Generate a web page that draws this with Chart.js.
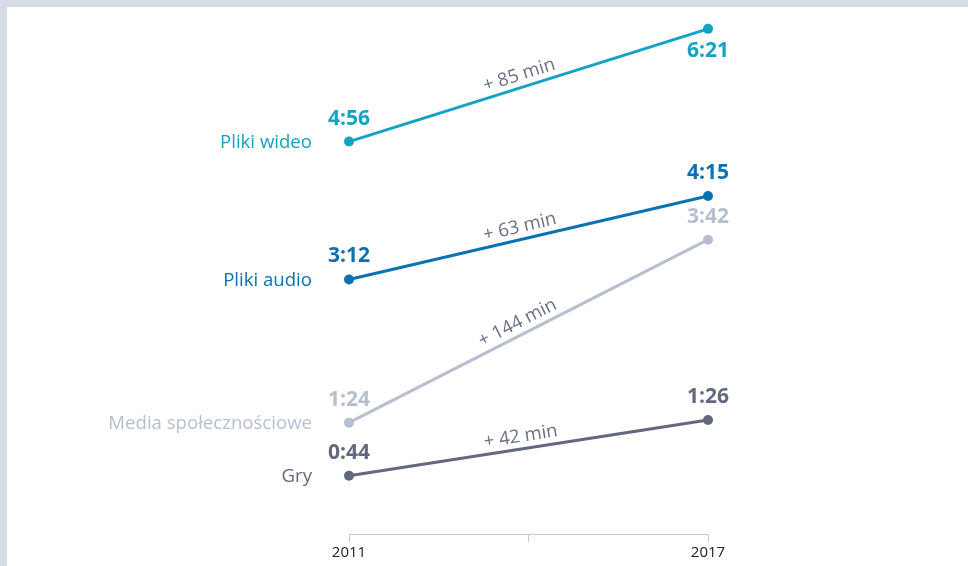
<!DOCTYPE html>
<html>
<head>
<meta charset="utf-8">
<script src="https://cdn.jsdelivr.net/npm/chart.js@4.4.1/dist/chart.umd.min.js"></script>
<style>
  html, body { margin: 0; padding: 0; background: #fff; }
  #wrap {
    position: relative; width: 968px; height: 566px; box-sizing: border-box;
    border-top: 7px solid #d5dce5; border-left: 7px solid #d5dce5;
  }
  #chart { position: absolute; left: -7px; top: -7px; }
</style>
</head>
<body>
<div id="wrap"><canvas id="chart" width="968" height="566"></canvas></div>
<script>
'use strict';
// Time spent per day (minutes), 2011 vs 2017

const years = [2011, 2017];
const seriesNames = ['Pliki wideo', 'Pliki audio', 'Media społecznościowe', 'Gry'];
const minutes2011 = [296, 192, 84, 44];
const minutes2017 = [381, 255, 222, 86];
const deltaLabels = ['+ 85 min', '+ 63 min', '+ 144 min', '+ 42 min'];
const seriesColors = ['#14a2c5', '#0a72b3', '#b6bfcf', '#62687f'];
// value label on the 2017 side goes below the point for the top series
const endLabelBelow = [true, false, false, false];

const FONT = '"Open Sans", "Noto Sans", sans-serif';

function fmtTime(m) {
    const h = Math.floor(m / 60), mm = m % 60;
    return h + ':' + String(mm).padStart(2, '0');
}

// Draws series names, values and the change labels along each line
const slopeLabels = {
    id: 'slopeLabels',
    afterDatasetsDraw(chart) {
        const { ctx, scales: { x, y } } = chart;
        ctx.save();
        seriesNames.forEach((name, i) => {
            const x0 = x.getPixelForValue(years[0]), y0 = y.getPixelForValue(minutes2011[i]);
            const x1 = x.getPixelForValue(years[1]), y1 = y.getPixelForValue(minutes2017[i]);
            const col = seriesColors[i];

            // series name, left of the first point
            ctx.fillStyle = col;
            ctx.font = '18.6px ' + FONT;
            ctx.textAlign = 'right';
            ctx.textBaseline = 'middle';
            ctx.fillText(name, x0 - 37, y0 + 1);

            // values
            ctx.font = 'bold 21px ' + FONT;
            ctx.textAlign = 'center';
            ctx.fillText(fmtTime(minutes2011[i]), x0, y0 - 23);
            ctx.fillText(fmtTime(minutes2017[i]), x1, y1 + (endLabelBelow[i] ? 22 : -23));

            // delta, rotated along the line
            const ang = Math.atan2(y1 - y0, x1 - x0);
            const mx = (x0 + x1) / 2, my = (y0 + y1) / 2;
            ctx.translate(mx, my);
            ctx.rotate(ang);
            ctx.fillStyle = '#6b7086';
            ctx.font = '18.5px ' + FONT;
            ctx.textBaseline = 'alphabetic';
            ctx.fillText(deltaLabels[i], -6, -7);
            ctx.setTransform(1, 0, 0, 1, 0, 0);
        });
        ctx.restore();
    }
};

new Chart(document.getElementById('chart'), {
    type: 'line',
    data: {
        datasets: seriesNames.map((name, i) => ({
            label: name,
            data: [
                { x: years[0], y: minutes2011[i] },
                { x: years[1], y: minutes2017[i] },
            ],
            borderColor: seriesColors[i],
            backgroundColor: seriesColors[i],
            pointBackgroundColor: seriesColors[i],
            borderWidth: 3,
            pointRadius: 5,
            pointBorderWidth: 0,
            tension: 0,
            clip: false,
        })),
    },
    options: {
        responsive: false,
        animation: false,
        events: [],
        layout: { padding: { left: 349, right: 260, top: 0, bottom: 2 } },
        plugins: { legend: { display: false }, tooltip: { enabled: false } },
        scales: {
            x: {
                type: 'linear',
                min: 2011,
                max: 2017,
                border: { display: true, color: '#c3cad6', width: 1 },
                grid: { drawOnChartArea: false, drawTicks: true, tickLength: 8, color: '#c3cad6' },
                ticks: {
                    stepSize: 3,
                    padding: 2,
                    color: '#222',
                    font: { family: FONT, size: 15 },
                    callback: v => (years.includes(v) ? String(v) : ''),
                },
            },
            y: {
                display: false,
                min: 0,
                max: 399,
            },
        },
    },
    plugins: [slopeLabels],
});
</script>
</body>
</html>
